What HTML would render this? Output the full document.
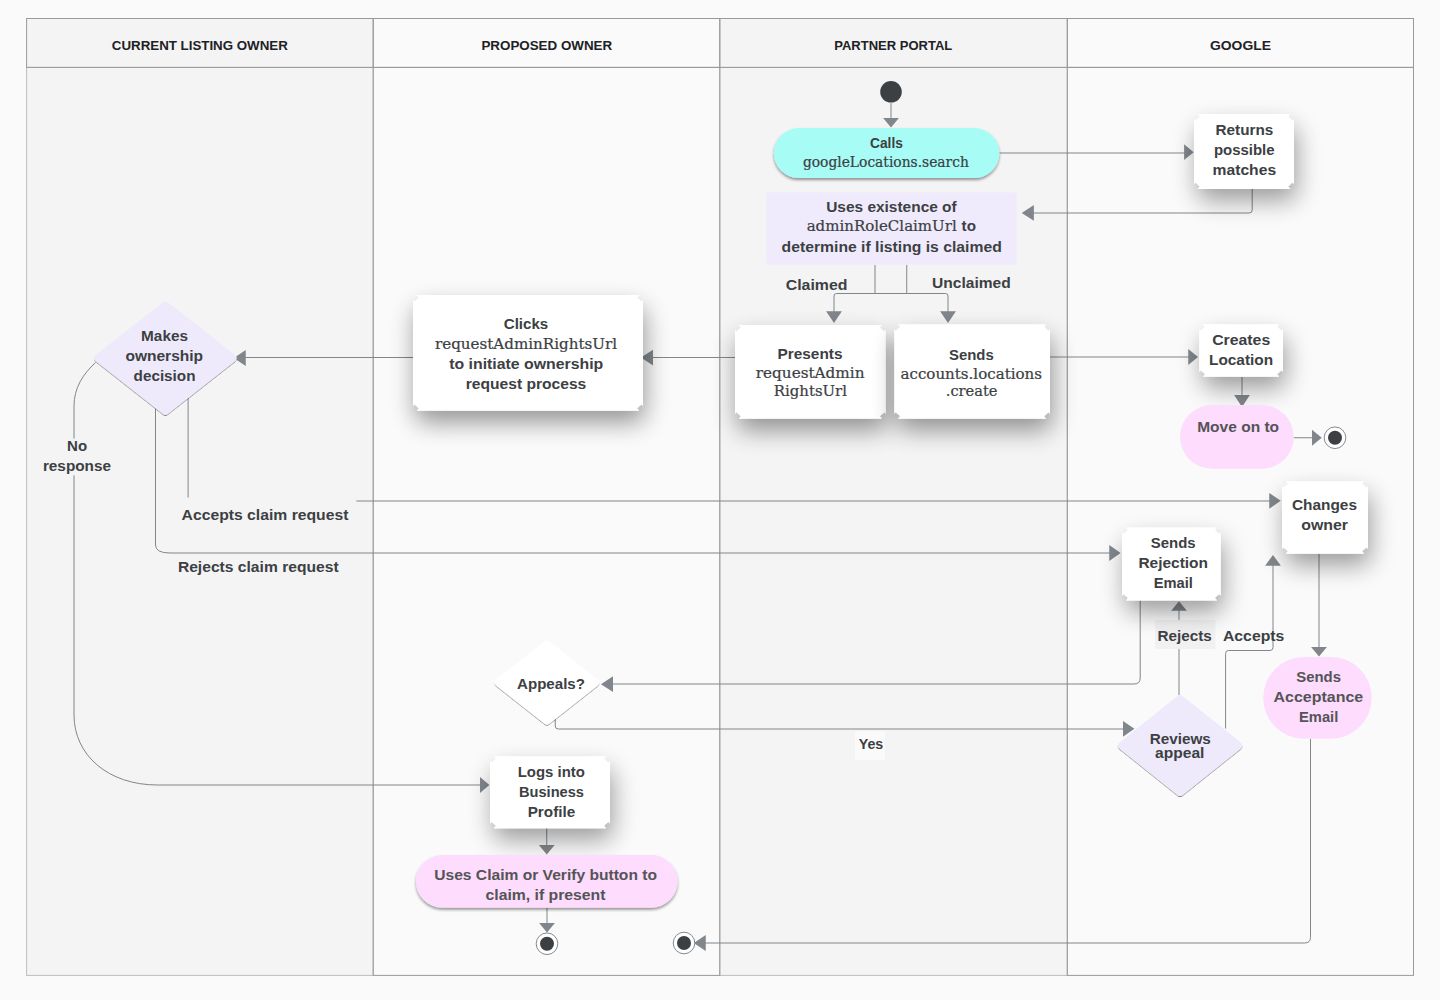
<!DOCTYPE html>
<html lang="en"><head><meta charset="utf-8"><title>Ownership request flow</title>
<style>
html,body{margin:0;padding:0;background:#fafafa;}
body{width:1440px;height:1000px;overflow:hidden;}
svg{display:block;}
text{fill:#3c4043;white-space:pre;}
.b{font-family:"Liberation Sans",sans-serif;font-weight:700;font-size:15px;}
.p{fill:#545456;}
.h{font-family:"Liberation Sans",sans-serif;font-weight:700;font-size:13.5px;fill:#202124;}
.m{font-family:"DejaVu Serif",serif;font-weight:400;font-size:14.3px;stroke:#3c4043;stroke-width:0.22px;}
</style></head>
<body>
<svg width="1440" height="1000" viewBox="0 0 1440 1000">
<defs>
<filter id="shB" x="-60%" y="-60%" width="220%" height="260%">
<feGaussianBlur in="SourceAlpha" stdDeviation="12" result="b1"/>
<feOffset in="b1" dx="2" dy="12" result="o1"/>
<feComponentTransfer in="o1" result="s1"><feFuncA type="linear" slope="0.4"/></feComponentTransfer>
<feMerge><feMergeNode in="s1"/><feMergeNode in="SourceGraphic"/></feMerge>
</filter>
<filter id="shS" x="-60%" y="-60%" width="220%" height="260%">
<feGaussianBlur in="SourceAlpha" stdDeviation="12" result="b1"/>
<feOffset in="b1" dx="3" dy="12" result="o1"/>
<feComponentTransfer in="o1" result="s1"><feFuncA type="linear" slope="0.37"/></feComponentTransfer>
<feMerge><feMergeNode in="s1"/><feMergeNode in="SourceGraphic"/></feMerge>
</filter>
<filter id="shP" x="-10%" y="-30%" width="120%" height="180%">
<feGaussianBlur in="SourceAlpha" stdDeviation="1.8" result="b1"/>
<feOffset in="b1" dx="0" dy="2.2" result="o1"/>
<feComponentTransfer in="o1" result="s1"><feFuncA type="linear" slope="0.42"/></feComponentTransfer>
<feMerge><feMergeNode in="s1"/><feMergeNode in="SourceGraphic"/></feMerge>
</filter>
<filter id="shD" x="-10%" y="-10%" width="120%" height="130%">
<feGaussianBlur in="SourceAlpha" stdDeviation="0.7" result="b1"/>
<feOffset in="b1" dx="0" dy="1" result="o1"/>
<feComponentTransfer in="o1" result="s1"><feFuncA type="linear" slope="0.45"/></feComponentTransfer>
<feMerge><feMergeNode in="s1"/><feMergeNode in="SourceGraphic"/></feMerge>
</filter>
</defs>
<rect x="26.6" y="18.5" width="346.6" height="956.9" fill="#f4f4f4"/>
<rect x="373.2" y="18.5" width="346.6" height="956.9" fill="#fafafa"/>
<rect x="719.8" y="18.5" width="347.5" height="956.9" fill="#f4f4f4"/>
<rect x="1067.3" y="18.5" width="346.2" height="956.9" fill="#fafafa"/>
<rect x="26.6" y="67.4" width="346.6" height="908.0" fill="none" stroke="#bdbdbd" stroke-width="1"/>
<rect x="719.8" y="67.4" width="347.5" height="908.0" fill="none" stroke="#bdbdbd" stroke-width="1"/>
<rect x="373.2" y="67.4" width="346.6" height="908.0" fill="none" stroke="#999" stroke-width="1"/>
<rect x="1067.3" y="67.4" width="346.2" height="908.0" fill="none" stroke="#999" stroke-width="1"/>
<rect x="26.6" y="18.5" width="346.6" height="48.9" fill="none" stroke="#999" stroke-width="1"/>
<rect x="373.2" y="18.5" width="346.6" height="48.9" fill="none" stroke="#999" stroke-width="1"/>
<rect x="719.8" y="18.5" width="347.5" height="48.9" fill="none" stroke="#999" stroke-width="1"/>
<rect x="1067.3" y="18.5" width="346.2" height="48.9" fill="none" stroke="#999" stroke-width="1"/>
<path d="M891,103V119" fill="none" stroke="#80868b" stroke-width="1.0"/>
<polygon points="891,127.5 883.1,118.1 898.9,118.1" fill="#80868b"/>
<path d="M999.3,153H1185" fill="none" stroke="#80868b" stroke-width="1.0"/>
<polygon points="1193.7,152.2 1184.1,144.3 1184.1,160.1" fill="#80868b"/>
<path d="M1252.2,189V210Q1252.2,213 1249.2,213H1033" fill="none" stroke="#80868b" stroke-width="1.0"/>
<polygon points="1021.7,212.9 1033.9,205.0 1033.9,220.8" fill="#80868b"/>
<path d="M875,264.8V293.5M906.75,264.8V293.5M834,312V296Q834,293.5 836.5,293.5H945.5Q948,293.5 948,296V312" fill="none" stroke="#80868b" stroke-width="1.0"/>
<polygon points="834,323.0 826.1,311.25 841.9,311.25" fill="#80868b"/>
<polygon points="948,323.0 940.1,311.25 955.9,311.25" fill="#80868b"/>
<path d="M735,357.5H652" fill="none" stroke="#80868b" stroke-width="1.0"/>
<polygon points="641.0,357.6 653.0,349.7 653.0,365.5" fill="#80868b"/>
<path d="M413,357.5H245" fill="none" stroke="#80868b" stroke-width="1.0"/>
<polygon points="233.75,358 245.75,350.1 245.75,365.9" fill="#80868b"/>
<path d="M1050,357H1189" fill="none" stroke="#80868b" stroke-width="1.0"/>
<polygon points="1198.0,357 1188.25,349.1 1188.25,364.9" fill="#80868b"/>
<path d="M1242,376.75V396" fill="none" stroke="#80868b" stroke-width="1.0"/>
<polygon points="1242,407.0 1234.1,395.0 1249.9,395.0" fill="#80868b"/>
<path d="M1293.75,437.75H1313" fill="none" stroke="#80868b" stroke-width="1.0"/>
<polygon points="1321.75,437.75 1312.0,429.85 1312.0,445.65" fill="#80868b"/>
<path d="M95.5,362.6C83,374 74,388 74,406V715C74,755 108,785 157.5,785H481" fill="none" stroke="#80868b" stroke-width="1.0"/>
<polygon points="489.4,785 480.0,777.1 480.0,792.9" fill="#80868b"/>
<path d="M155.5,408.5V545Q155.5,553 170,553H1110" fill="none" stroke="#80868b" stroke-width="1.0"/>
<polygon points="1120.55,553 1109.25,545.1 1109.25,560.9" fill="#80868b"/>
<path d="M188.1,398V501H1270" fill="none" stroke="#80868b" stroke-width="1.0"/>
<polygon points="1280.75,500.8 1269.25,492.9 1269.25,508.7" fill="#80868b"/>
<path d="M1319,553.75V648" fill="none" stroke="#80868b" stroke-width="1.0"/>
<polygon points="1319,656.6 1311.1,647.0 1326.9,647.0" fill="#80868b"/>
<path d="M1310.5,738.75V937.5Q1310.5,943 1304.5,943H705" fill="none" stroke="#80868b" stroke-width="1.0"/>
<polygon points="693.75,943 705.75,935.1 705.75,950.9" fill="#80868b"/>
<path d="M1140.2,600.5V678Q1140.2,684 1134,684H612" fill="none" stroke="#80868b" stroke-width="1.0"/>
<polygon points="601.0,684.2 613.0,676.3 613.0,692.1" fill="#80868b"/>
<path d="M555.25,718.5V726Q555.25,729 558.2,729H1124" fill="none" stroke="#80868b" stroke-width="1.0"/>
<polygon points="1134.4,728.8 1123.0,720.9 1123.0,736.7" fill="#80868b"/>
<path d="M1179,695V610" fill="none" stroke="#80868b" stroke-width="1.0"/>
<polygon points="1179,601.15 1171.1,610.75 1186.9,610.75" fill="#80868b"/>
<path d="M1225.6,728.5V653.5Q1225.6,650.5 1228.6,650.5H1270Q1273,650.5 1273,647.5V565" fill="none" stroke="#80868b" stroke-width="1.0"/>
<polygon points="1273,554.95 1265.1,565.75 1280.9,565.75" fill="#80868b"/>
<path d="M546.75,828.25V846" fill="none" stroke="#80868b" stroke-width="1.0"/>
<polygon points="546.75,854.6 538.85,845.0 554.65,845.0" fill="#80868b"/>
<path d="M547,908V924" fill="none" stroke="#80868b" stroke-width="1.0"/>
<polygon points="547,932.4 539.1,923.0 554.9,923.0" fill="#80868b"/>
<rect x="176" y="497.5" width="180.3" height="32" fill="#f4f4f4"/>
<rect x="40" y="438.6" width="74" height="36.7" fill="#f4f4f4"/>
<rect x="1155" y="620" width="60.5" height="28.9" fill="#f1f1f1"/>
<rect x="855" y="731.3" width="30" height="28.7" fill="#fafafa"/>
<circle cx="891" cy="91.8" r="10.8" fill="#3c4043"/>
<rect x="773.9" y="128" width="225.4" height="50.1" rx="25.05" fill="#a7fcf6" filter="url(#shP)"/>
<rect x="766.2" y="192.2" width="250.5" height="72.6" rx="3" fill="#f0ebfc"/>
<polygon points="1194,119.0 1195.6,120.4 1200.0,116.4 1197.8,114 1290.2,114 1288.0,116.4 1292.4,120.4 1294,119.0 1294,184.0 1292.4,182.6 1288.0,186.6 1290.2,189 1197.8,189 1200.0,186.6 1195.6,182.6 1194,184.0" fill="#fff" filter="url(#shS)"/>
<polygon points="735,330.0 736.6,331.4 741.0,327.4 738.8,325 881.95,325 879.75,327.4 884.15,331.4 885.75,330.0 885.75,413.75 884.15,412.35 879.75,416.35 881.95,418.75 738.8,418.75 741.0,416.35 736.6,412.35 735,413.75" fill="#fff" filter="url(#shB)"/>
<polygon points="894.25,329.25 895.85,330.65 900.25,326.65 898.05,324.25 1046.2,324.25 1044.0,326.65 1048.4,330.65 1050,329.25 1050,413.75 1048.4,412.35 1044.0,416.35 1046.2,418.75 898.05,418.75 900.25,416.35 895.85,412.35 894.25,413.75" fill="#fff" filter="url(#shB)"/>
<polygon points="413,300.0 414.6,301.4 419.0,297.4 416.8,295 639.2,295 637.0,297.4 641.4,301.4 643,300.0 643,405.75 641.4,404.35 637.0,408.35 639.2,410.75 416.8,410.75 419.0,408.35 414.6,404.35 413,405.75" fill="#fff" filter="url(#shB)"/>
<path d="M165.4,305.4L232.6,358.1L165.4,410.8L98.2,358.1Z" fill="#eeeafc" stroke="#eeeafc" stroke-width="8" stroke-linejoin="round" filter="url(#shD)"/>
<polygon points="1199.25,329.25 1200.85,330.65 1205.25,326.65 1203.05,324.25 1279.2,324.25 1277.0,326.65 1281.4,330.65 1283,329.25 1283,371.75 1281.4,370.35 1277.0,374.35 1279.2,376.75 1203.05,376.75 1205.25,374.35 1200.85,370.35 1199.25,371.75" fill="#fff" filter="url(#shS)"/>
<rect x="1180" y="405" width="113.75" height="63.75" rx="31.88" fill="#fddcfd"/>
<polygon points="1282,486.25 1283.6,487.65 1288.0,483.65 1285.8,481.25 1364.2,481.25 1362.0,483.65 1366.4,487.65 1368,486.25 1368,548.75 1366.4,547.35 1362.0,551.35 1364.2,553.75 1285.8,553.75 1288.0,551.35 1283.6,547.35 1282,548.75" fill="#fff" filter="url(#shS)"/>
<polygon points="1122,532.5 1123.6,533.9 1128.0,529.9 1125.8,527.5 1216.95,527.5 1214.75,529.9 1219.15,533.9 1220.75,532.5 1220.75,595.5 1219.15,594.1 1214.75,598.1 1216.95,600.5 1125.8,600.5 1128.0,598.1 1123.6,594.1 1122,595.5" fill="#fff" filter="url(#shS)"/>
<rect x="1263.25" y="657" width="108.5" height="81.75" rx="40.88" fill="#fddcfd"/>
<path d="M1180.1,699.2L1238.3,745.6L1180.1,792.0L1121.9,745.6Z" fill="#eeeafc" stroke="#eeeafc" stroke-width="8" stroke-linejoin="round" filter="url(#shD)"/>
<path d="M546.95,644.6L595.2,682.6L546.95,720.6L498.7,682.6Z" fill="#ffffff" stroke="#ffffff" stroke-width="8" stroke-linejoin="round" filter="url(#shD)"/>
<polygon points="490,761.25 491.6,762.65 496.0,758.65 493.8,756.25 606.2,756.25 604.0,758.65 608.4,762.65 610,761.25 610,823.25 608.4,821.85 604.0,825.85 606.2,828.25 493.8,828.25 496.0,825.85 491.6,821.85 490,823.25" fill="#fff" filter="url(#shS)"/>
<rect x="416" y="855" width="261.5" height="52.8" rx="26.4" fill="#fddcfd" filter="url(#shP)"/>
<circle cx="1335" cy="437.75" r="10.8" fill="#fff" stroke="#777c82" stroke-width="0.9"/>
<circle cx="1335" cy="437.75" r="7" fill="#3c4043"/>
<circle cx="684" cy="943" r="10.8" fill="#fff" stroke="#777c82" stroke-width="0.9"/>
<circle cx="684" cy="943" r="7" fill="#3c4043"/>
<circle cx="547" cy="943.75" r="10.8" fill="#fff" stroke="#777c82" stroke-width="0.9"/>
<circle cx="547" cy="943.75" r="7" fill="#3c4043"/>
<g opacity="1">
<text class="h" x="111.8" y="50" textLength="176" lengthAdjust="spacingAndGlyphs">CURRENT LISTING OWNER</text>
<text class="h" x="481.4" y="50" textLength="130.8" lengthAdjust="spacingAndGlyphs">PROPOSED OWNER</text>
<text class="h" x="834.2" y="50" textLength="118.1" lengthAdjust="spacingAndGlyphs">PARTNER PORTAL</text>
<text class="h" x="1210" y="50" textLength="61" lengthAdjust="spacingAndGlyphs">GOOGLE</text>
<text class="b" x="870" y="148.0" textLength="32.9" lengthAdjust="spacingAndGlyphs">Calls</text>
<text class="m" x="802.9" y="167.3" textLength="166" lengthAdjust="spacingAndGlyphs">googleLocations.search</text>
<text class="b" x="826.2" y="211.8" textLength="130.5" lengthAdjust="spacingAndGlyphs">Uses existence of</text>
<text class="m" x="806.7" y="231.3" textLength="150" lengthAdjust="spacingAndGlyphs">adminRoleClaimUrl</text>
<text class="b" x="961.6" y="231.3" textLength="14.4" lengthAdjust="spacingAndGlyphs">to</text>
<text class="b" x="781.6" y="251.8" textLength="220.2" lengthAdjust="spacingAndGlyphs">determine if listing is claimed</text>
<text class="b" x="1215.5" y="134.8" textLength="57.8" lengthAdjust="spacingAndGlyphs">Returns</text>
<text class="b" x="1213.9" y="154.8" textLength="60.7" lengthAdjust="spacingAndGlyphs">possible</text>
<text class="b" x="1212.6" y="174.8" textLength="63.5" lengthAdjust="spacingAndGlyphs">matches</text>
<text class="b" x="785.75" y="289.7" textLength="61.75" lengthAdjust="spacingAndGlyphs">Claimed</text>
<text class="b" x="932" y="288.2" textLength="78.75" lengthAdjust="spacingAndGlyphs">Unclaimed</text>
<text class="b" x="777.5" y="358.95" textLength="65" lengthAdjust="spacingAndGlyphs">Presents</text>
<text class="m" x="755.75" y="378.2" textLength="108.75" lengthAdjust="spacingAndGlyphs">requestAdmin</text>
<text class="m" x="773.75" y="395.95" textLength="73.25" lengthAdjust="spacingAndGlyphs">RightsUrl</text>
<text class="b" x="949" y="359.7" textLength="44.75" lengthAdjust="spacingAndGlyphs">Sends</text>
<text class="m" x="900.5" y="378.95" textLength="141.5" lengthAdjust="spacingAndGlyphs">accounts.locations</text>
<text class="m" x="945.75" y="396.45" textLength="51.75" lengthAdjust="spacingAndGlyphs">.create</text>
<text class="b" x="503.75" y="328.95" textLength="44.5" lengthAdjust="spacingAndGlyphs">Clicks</text>
<text class="m" x="435" y="348.95" textLength="182" lengthAdjust="spacingAndGlyphs">requestAdminRightsUrl</text>
<text class="b" x="449.25" y="369.45" textLength="154" lengthAdjust="spacingAndGlyphs">to initiate ownership</text>
<text class="b" x="465.75" y="388.95" textLength="120.5" lengthAdjust="spacingAndGlyphs">request process</text>
<text class="b" x="141.1" y="340.5" textLength="46.9" lengthAdjust="spacingAndGlyphs">Makes</text>
<text class="b" x="125.4" y="360.5" textLength="77.7" lengthAdjust="spacingAndGlyphs">ownership</text>
<text class="b" x="133.6" y="380.6" textLength="61.9" lengthAdjust="spacingAndGlyphs">decision</text>
<text class="b" x="67.1" y="451.1" textLength="20" lengthAdjust="spacingAndGlyphs">No</text>
<text class="b" x="42.9" y="471" textLength="68.1" lengthAdjust="spacingAndGlyphs">response</text>
<text class="b" x="181.6" y="519.8" textLength="166.8" lengthAdjust="spacingAndGlyphs">Accepts claim request</text>
<text class="b" x="177.9" y="571.6" textLength="160.7" lengthAdjust="spacingAndGlyphs">Rejects claim request</text>
<text class="b" x="1212.2" y="344.5" textLength="58" lengthAdjust="spacingAndGlyphs">Creates</text>
<text class="b" x="1209" y="364.6" textLength="64.1" lengthAdjust="spacingAndGlyphs">Location</text>
<text class="b p" x="1197.2" y="432.3" textLength="81.9" lengthAdjust="spacingAndGlyphs">Move on to</text>
<text class="b" x="1292" y="509.7" textLength="65" lengthAdjust="spacingAndGlyphs">Changes</text>
<text class="b" x="1301.25" y="529.7" textLength="46.75" lengthAdjust="spacingAndGlyphs">owner</text>
<text class="b" x="1150.8" y="547.7" textLength="44.8" lengthAdjust="spacingAndGlyphs">Sends</text>
<text class="b" x="1138.4" y="567.7" textLength="69.6" lengthAdjust="spacingAndGlyphs">Rejection</text>
<text class="b" x="1153.7" y="587.7" textLength="39.2" lengthAdjust="spacingAndGlyphs">Email</text>
<text class="b" x="1157.5" y="640.95" textLength="54.25" lengthAdjust="spacingAndGlyphs">Rejects</text>
<text class="b" x="1223" y="640.95" textLength="61.25" lengthAdjust="spacingAndGlyphs">Accepts</text>
<text class="b p" x="1296.3" y="681.8" textLength="44.7" lengthAdjust="spacingAndGlyphs">Sends</text>
<text class="b p" x="1273.6" y="701.6" textLength="89.6" lengthAdjust="spacingAndGlyphs">Acceptance</text>
<text class="b p" x="1299" y="721.5" textLength="39.3" lengthAdjust="spacingAndGlyphs">Email</text>
<text class="b" x="1149.7" y="743.9" textLength="61.1" lengthAdjust="spacingAndGlyphs">Reviews</text>
<text class="b" x="1155" y="757.8" textLength="49.4" lengthAdjust="spacingAndGlyphs">appeal</text>
<text class="b" x="517" y="688.95" textLength="68" lengthAdjust="spacingAndGlyphs">Appeals?</text>
<text class="b" x="858.75" y="748.95" textLength="24.5" lengthAdjust="spacingAndGlyphs">Yes</text>
<text class="b" x="517.7" y="776.8" textLength="67.2" lengthAdjust="spacingAndGlyphs">Logs into</text>
<text class="b" x="519" y="796.7" textLength="65" lengthAdjust="spacingAndGlyphs">Business</text>
<text class="b" x="527.7" y="816.6" textLength="47.5" lengthAdjust="spacingAndGlyphs">Profile</text>
<text class="b p" x="434.25" y="879.7" textLength="222.75" lengthAdjust="spacingAndGlyphs">Uses Claim or Verify button to</text>
<text class="b p" x="485.5" y="899.7" textLength="120" lengthAdjust="spacingAndGlyphs">claim, if present</text>
</g>
</svg>
</body></html>
